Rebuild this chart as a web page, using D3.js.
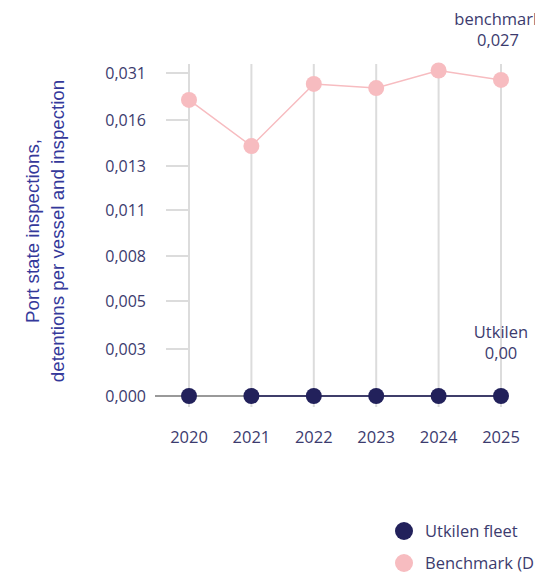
<!DOCTYPE html>
<html>
<head>
<meta charset="utf-8">
<script src="https://cdn.jsdelivr.net/npm/d3@7"></script>
<style>
	body { margin: 0; background: #fff; }
	svg { display: block; font-family: "Open Sans", sans-serif; }
</style>
</head>
<body>
<script>
// chart data
const years = ["2020", "2021", "2022", "2023", "2024", "2025"];
const fleetValues = [0, 0, 0, 0, 0, 0];
const benchmarkValues = [0.0224, 0.0143, 0.0275, 0.0262, 0.0318, 0.0288];
const tickValues = [0, 0.003, 0.005, 0.008, 0.011, 0.013, 0.016, 0.031];
const tickLabels = ["0,000", "0,003", "0,005", "0,008", "0,011", "0,013", "0,016", "0,031"];
const seriesNames = ["Utkilen fleet", "Benchmark (DNV)"];
const endLabels = [["Utkilen", "0,00"], ["benchmark", "0,027"]];

const width = 535;
const height = 576;
const navy = "#22215b";
const pink = "#f7bcc0";
const textColor = "#3c3b6e";
const fontSize = 16.5;

const svg = d3.select("body")
	.append("svg")
	.attr("width", width)
	.attr("height", height);

// x positions by year, y is piecewise through the tick values
let xScale = d3.scalePoint().domain(years).range([189, 501]);
let yScale = d3.scaleLinear()
	.domain(tickValues)
	.range([396, 349, 301, 256, 210, 166, 120, 73]);

// vertical grid lines
svg.append("g")
	.selectAll("line")
	.data(years)
	.enter()
	.append("line")
	.attr("x1", (d) => xScale(d))
	.attr("x2", (d) => xScale(d))
	.attr("y1", 64)
	.attr("y2", 407)
	.attr("stroke", "#dcdcdc")
	.attr("stroke-width", 2);

// y ticks
let yAxis = svg.append("g").attr("id", "y-axis");
yAxis.selectAll("line")
	.data(tickValues.slice(1))
	.enter()
	.append("line")
	.attr("x1", 166)
	.attr("x2", 189)
	.attr("y1", (d) => yScale(d))
	.attr("y2", (d) => yScale(d))
	.attr("stroke", "#dcdcdc")
	.attr("stroke-width", 2);
yAxis.selectAll("text")
	.data(tickValues)
	.enter()
	.append("text")
	.attr("x", 146)
	.attr("y", (d) => yScale(d))
	.attr("dy", "0.35em")
	.attr("text-anchor", "end")
	.attr("font-size", 16)
	.attr("fill", textColor)
	.text((d, i) => tickLabels[i]);

// baseline
svg.append("line")
	.attr("x1", 155)
	.attr("x2", xScale("2025"))
	.attr("y1", yScale(0))
	.attr("y2", yScale(0))
	.attr("stroke", "#999")
	.attr("stroke-width", 2);

// x labels
svg.append("g")
	.selectAll("text")
	.data(years)
	.enter()
	.append("text")
	.attr("x", (d) => xScale(d))
	.attr("y", 443)
	.attr("text-anchor", "middle")
	.attr("font-size", fontSize)
	.attr("fill", textColor)
	.text((d) => d);

// y axis title
let yTitle = svg.append("text")
	.attr("transform", "translate(39,231) rotate(-90)")
	.attr("text-anchor", "middle")
	.attr("font-family", "'Liberation Sans', Arial, sans-serif")
	.attr("font-size", 18.7)
	.attr("fill", "#34389a");
yTitle.append("tspan").attr("x", 0).attr("dy", 0).text("Port state inspections,");
yTitle.append("tspan").attr("x", 0).attr("dy", 25).text("detentions per vessel and inspection");

let line = d3.line()
	.x((d) => xScale(d[0]))
	.y((d) => yScale(d[1]));

// benchmark series
let benchData = years.map((y, i) => [y, benchmarkValues[i]]);
svg.append("path")
	.attr("d", line(benchData))
	.attr("fill", "none")
	.attr("stroke", pink)
	.attr("stroke-width", 1.5);
svg.append("g")
	.selectAll("circle")
	.data(benchData)
	.enter()
	.append("circle")
	.attr("cx", (d) => xScale(d[0]))
	.attr("cy", (d) => yScale(d[1]))
	.attr("r", 8)
	.attr("fill", pink);

// fleet series
let fleetData = years.map((y, i) => [y, fleetValues[i]]);
svg.append("path")
	.attr("d", line(fleetData.slice(1)))
	.attr("fill", "none")
	.attr("stroke", navy)
	.attr("stroke-width", 1.5);
svg.append("g")
	.selectAll("circle")
	.data(fleetData)
	.enter()
	.append("circle")
	.attr("cx", (d) => xScale(d[0]))
	.attr("cy", (d) => yScale(d[1]))
	.attr("r", 8)
	.attr("fill", navy);

// end labels
function endLabel(lines, x, y) {
	let t = svg.append("text")
		.attr("text-anchor", "middle")
		.attr("font-size", fontSize)
		.attr("fill", textColor);
	t.append("tspan").attr("x", x).attr("y", y).text(lines[0]);
	t.append("tspan").attr("x", x).attr("y", y + 21).text(lines[1]);
}
endLabel(endLabels[0], xScale("2025"), 338);
endLabel(endLabels[1], xScale("2025") - 3, 25);

// legend
let legend = svg.append("g");
[navy, pink].forEach((c, i) => {
	legend.append("circle")
		.attr("cx", 404)
		.attr("cy", 531 + i * 32)
		.attr("r", 9)
		.attr("fill", c);
	legend.append("text")
		.attr("x", 425)
		.attr("y", 531 + i * 32)
		.attr("dy", "0.35em")
		.attr("font-size", fontSize)
		.attr("fill", textColor)
		.text(seriesNames[i]);
});
</script>
</body>
</html>
